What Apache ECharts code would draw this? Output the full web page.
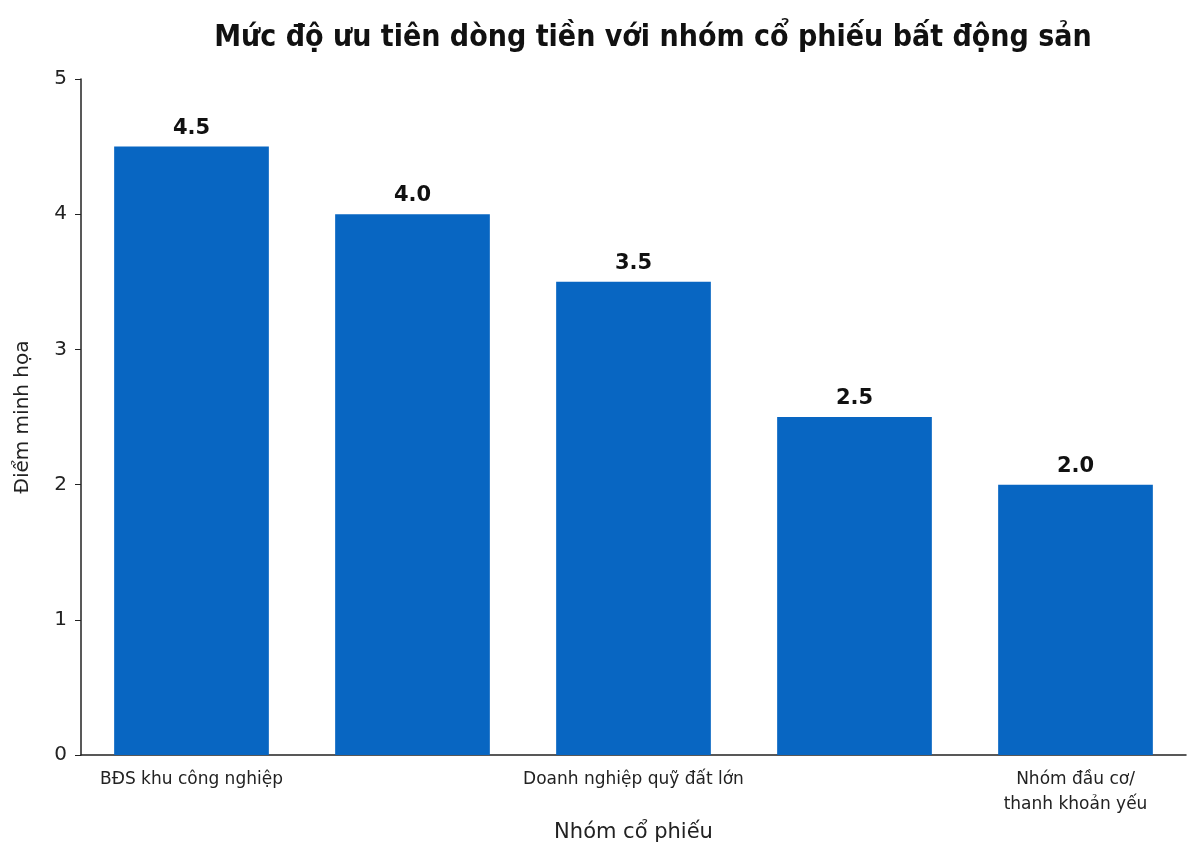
<!DOCTYPE html>
<html>
<head>
<meta charset="utf-8">
<script src="https://cdn.jsdelivr.net/npm/echarts@6/dist/echarts.min.js"></script>
<style>html,body{margin:0;background:#fff}#c{width:1200px;height:848px}</style>
</head>
<body>
<div id="c"></div>
<script>
const categories = ['BĐS khu công nghiệp', 'Nhà ở nhu cầu thực', 'Doanh nghiệp quỹ đất lớn', 'Nhóm đòn bẩy cao', 'Nhóm đầu cơ/\nthanh khoản yếu'];
const scores = [4.5, 4.0, 3.5, 2.5, 2.0];
const yTicks = { min: 0, max: 5, interval: 1 };

const font = 'DejaVu Sans';
const chart = echarts.init(document.getElementById('c'));
chart.setOption({
  title: {
    text: 'Mức độ ưu tiên dòng tiền với nhóm cổ phiếu bất động sản',
    left: 648, top: 18, textAlign: 'center',
    textStyle: { fontFamily: 'DejaVu Sans Condensed', fontWeight: 'bold', fontSize: 30, color: '#111' }
  },
  grid: { left: 81, right: 14, top: 79, bottom: 92 },
  xAxis: {
    type: 'category',
    data: categories,
    name: 'Nhóm cổ phiếu', nameLocation: 'middle', nameGap: 62,
    nameTextStyle: { fontFamily: font, fontSize: 21, color: '#222' },
    axisLine: { lineStyle: { color: '#222', width: 1.5 } },
    axisTick: { alignWithLabel: true, lineStyle: { color: '#222' }, length: 6 },
    axisLabel: { fontFamily: font, fontSize: 17, color: '#222', margin: 12, lineHeight: 25 }
  },
  yAxis: {
    type: 'value', min: yTicks.min, max: yTicks.max, interval: yTicks.interval,
    name: 'Điểm minh họa', nameLocation: 'middle', nameGap: 48,
    nameTextStyle: { fontFamily: font, fontSize: 20, color: '#222' },
    axisLine: { show: true, lineStyle: { color: '#222', width: 1.5 } },
    axisTick: { show: true, lineStyle: { color: '#222' }, length: 6 },
    axisLabel: { fontFamily: font, fontSize: 20, color: '#222', margin: 14 },
    splitLine: { show: false }
  },
  series: [{
    type: 'bar',
    data: scores,
    barWidth: '70%',
    itemStyle: { color: '#0866c2' },
    label: {
      show: true, position: 'top', distance: 8,
      formatter: p => p.value.toFixed(1),
      fontFamily: font, fontWeight: 'bold', fontSize: 21, color: '#111'
    }
  }]
});
</script>
</body>
</html>
